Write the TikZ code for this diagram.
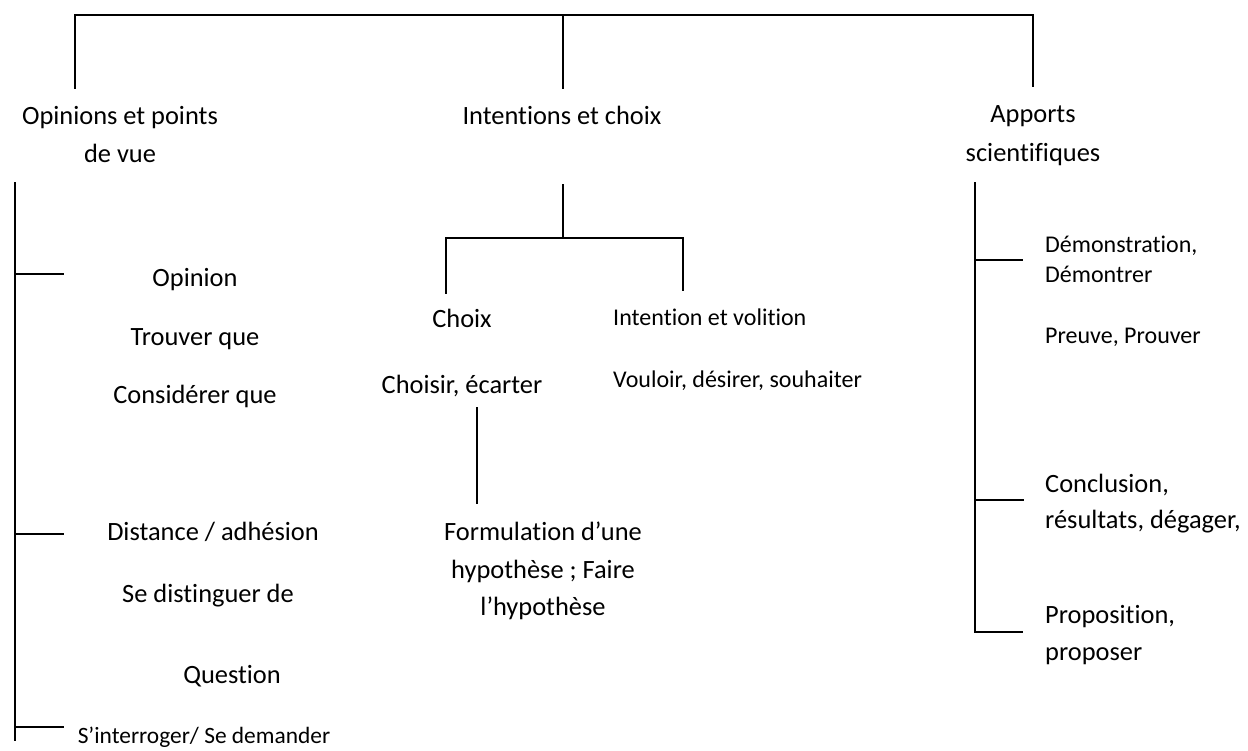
\documentclass[tikz,border=0pt]{standalone}
\usepackage{fontspec}
\setmainfont{Carlito}[Ligatures={NoCommon,NoContextual}]
\begin{document}
\begin{tikzpicture}[x=1pt,y=-1pt,
  link/.style={line width=1.8pt, line cap=rect},
  big/.style={font=\fontsize{26.4}{32}\selectfont, inner sep=0pt, anchor=base},
  bigl/.style={big, anchor=base west},
  small/.style={font=\fontsize{24}{29}\selectfont, inner sep=0pt, anchor=base west}]
\useasboundingbox (0,0) rectangle (1248,751);

% top-level bracket
\coordinate (tl) at (75,15);
\coordinate (tm) at (563,15);
\coordinate (tr) at (1033,15);
\coordinate (dl) at (75,88);
\coordinate (dm) at (563,88);
\coordinate (dr) at (1033,86);
\draw[link] (dl) -- (tl) -- (tr) -- (dr);
\draw[link] (tm) -- (dm);

% category titles
\node[big] (op1) at (120,125) {Opinions et points};
\node[big] (op2) at (120,163) {de vue};
\node[big] (ic)  at (562,125) {Intentions et choix};
\node[big] (ap1) at (1033,123) {Apports};
\node[big] (ap2) at (1033,162) {scientifiques};

% left column: opinions
\coordinate (lt) at (15,183);
\coordinate (lb) at (15,740);
\coordinate (l1) at (15,274);  \coordinate (l1e) at (63,274);
\coordinate (l2) at (15,534);  \coordinate (l2e) at (63,534);
\coordinate (l3) at (15,727);  \coordinate (l3e) at (63,727);
\draw[link] (lt) -- (lb);
\draw[link] (l1) -- (l1e);
\draw[link] (l2) -- (l2e);
\draw[link] (l3) -- (l3e);

\node[big] (opin)  at (195,287) {Opinion};
\node[big] (trouv) at (195,345) {Trouver que};
\node[big] (consi) at (195,403) {Considérer que};
\node[big] (dist)  at (213,540) {Distance / adhésion};
\node[big] (sedis) at (208,602) {Se distinguer de};
\node[big] (quest) at (232,683) {Question};
\node[big, font=\fontsize{23.4}{28}\selectfont] (inter) at (204,743) {S’interroger/ Se demander};

% middle column: intentions
\coordinate (mt) at (563,185);
\coordinate (mj) at (563,238);
\coordinate (ml) at (446,238);
\coordinate (mr) at (683,238);
\coordinate (mld) at (446,293);
\coordinate (mrd) at (683,290);
\draw[link] (mt) -- (mj);
\draw[link] (mld) -- (ml) -- (mr) -- (mrd);

\node[big] (choix) at (462,328) {Choix};
\node[big] (chois) at (462,393) {Choisir, écarter};
\node[small] (intv) at (613,326) {Intention et volition};
\node[small] (voul) at (613,387) {Vouloir, désirer, souhaiter};

\coordinate (ct) at (477,408);
\coordinate (cb) at (477,503);
\draw[link] (ct) -- (cb);

\node[big] (form1) at (543,540) {Formulation d’une};
\node[big] (form2) at (543,578) {hypothèse ; Faire};
\node[big] (form3) at (543,615) {l’hypothèse};

% right column: scientific contributions
\coordinate (rt) at (975,183);
\coordinate (rb) at (975,632);
\coordinate (r1) at (975,260);  \coordinate (r1e) at (1022,260);
\coordinate (r2) at (975,500);  \coordinate (r2e) at (1023,500);
\coordinate (r3e) at (1022,632);
\draw[link] (rt) -- (rb) -- (r3e);
\draw[link] (r1) -- (r1e);
\draw[link] (r2) -- (r2e);

\node[small] (demo1) at (1045,253) {Démonstration,};
\node[small] (demo2) at (1045,283) {Démontrer};
\node[small] (preu)  at (1045,344) {Preuve, Prouver};
\node[bigl] (conc1) at (1045,492) {Conclusion,};
\node[bigl] (conc2) at (1045,528) {résultats, dégager,};
\node[bigl] (prop1) at (1045,623) {Proposition,};
\node[bigl] (prop2) at (1045,660) {proposer};
\end{tikzpicture}
\end{document}
